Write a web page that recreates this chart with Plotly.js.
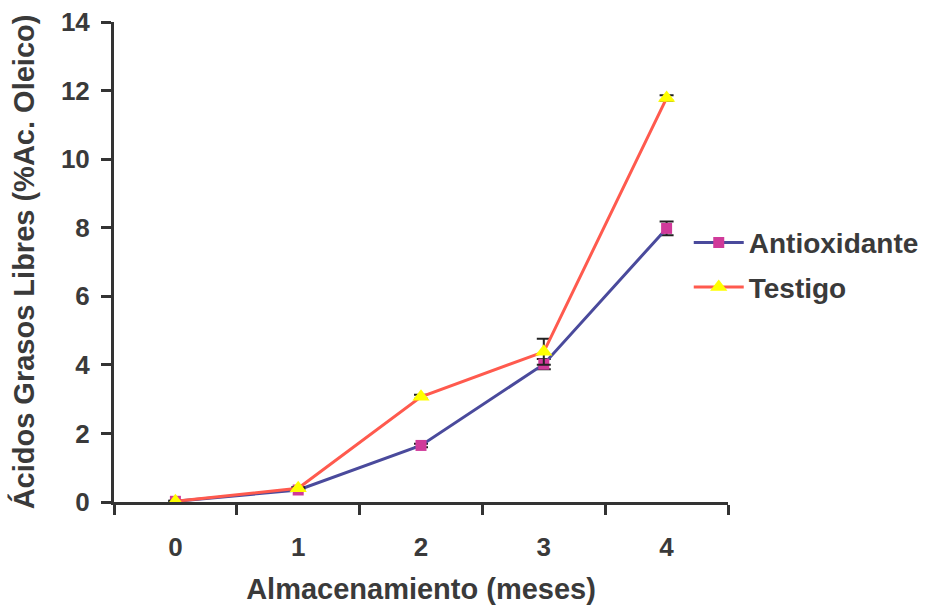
<!DOCTYPE html>
<html>
<head>
<meta charset="utf-8">
<script src="https://cdn.plot.ly/plotly-3.0.1.min.js"></script>
<style>html,body{margin:0;padding:0;background:#fff;}#chart{width:932px;height:606px;}</style>
</head>
<body>
<div id="chart"></div>
<script>
const months = ['0', '1', '2', '3', '4'];
const antioxidante = [0.02, 0.35, 1.65, 4.02, 7.98];
const antioxidanteErr = [0.02, 0.03, 0.05, 0.15, 0.2];
const testigo = [0.02, 0.4, 3.07, 4.38, 11.78];
const testigoErr = [0.02, 0.03, 0.06, 0.38, 0.08];
const yTicks = [0, 2, 4, 6, 8, 10, 12, 14];

const textColor = '#3a3a3a';
const fontFam = '"Liberation Sans", Arial, sans-serif';

const traces = [
  {
    x: months, y: antioxidante, name: 'Antioxidante', type: 'scatter', mode: 'lines+markers',
    legendgroup: 'a',
    line: {color: '#4a4a9c', width: 3},
    marker: {symbol: 'square', size: 11, color: '#d03a9a'},
    error_y: {type: 'data', array: antioxidanteErr, visible: true, color: '#222', thickness: 2, width: 7}
  },
  {
    x: months, y: testigo, name: 'Testigo', type: 'scatter', mode: 'lines+markers',
    legendgroup: 'b',
    line: {color: '#ff5a4e', width: 3},
    marker: {symbol: 'triangle-up', size: 15, color: '#ffff00'},
    error_y: {type: 'data', array: testigoErr, visible: true, color: '#222', thickness: 2, width: 7}
  }
];

const layout = {
  width: 932, height: 606,
  margin: {l: 114, r: 204, t: 22, b: 104, autoexpand: false},
  paper_bgcolor: '#ffffff', plot_bgcolor: '#ffffff',
  font: {family: fontFam, color: textColor, size: 26, weight: 'bold'},
  showlegend: true,
  legend: {
    xref: 'container', yref: 'container',
    x: 0.739, y: 0.563, xanchor: 'left', yanchor: 'middle',
    font: {family: fontFam, size: 28, color: textColor, weight: 'bold'},
    bgcolor: 'rgba(0,0,0,0)', itemwidth: 50, tracegroupgap: 5
  },
  xaxis: {
    type: 'category', range: [-0.5, 4.5], tickson: 'boundaries',
    showline: true, linecolor: '#333', linewidth: 3,
    ticks: 'outside', ticklen: 10, tickwidth: 3, tickcolor: '#333',
    ticklabelstandoff: 20,
    showgrid: false, zeroline: false,
    tickfont: {family: fontFam, size: 26, color: textColor, weight: 'bold'},
    title: {text: 'Almacenamiento (meses)', font: {family: fontFam, size: 29, color: textColor, weight: 'bold'}, standoff: 18}
  },
  yaxis: {
    range: [0, 14], tickvals: yTicks,
    showline: true, linecolor: '#333', linewidth: 3,
    ticks: 'outside', ticklen: 10, tickwidth: 3, tickcolor: '#333',
    ticklabelstandoff: 6,
    showgrid: false, zeroline: false,
    tickfont: {family: fontFam, size: 26, color: textColor, weight: 'bold'},
    title: {text: 'Ácidos Grasos Libres (%Ac. Oleico)', font: {family: fontFam, size: 29, color: textColor, weight: 'bold'}, standoff: 18}
  }
};

Plotly.newPlot('chart', traces, layout, {displayModeBar: false, staticPlot: true});
</script>
</body>
</html>
